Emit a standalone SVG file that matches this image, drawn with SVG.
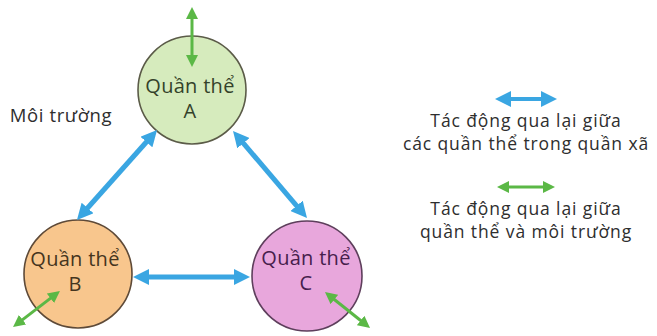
<svg xmlns="http://www.w3.org/2000/svg" width="657" height="336" viewBox="0 0 657 336">
<style>
  .node circle { stroke-width: 1.6; }
  .lbl { font-family: "Open Sans", "Liberation Sans", sans-serif; font-size: 20px; letter-spacing: 0.3px; text-anchor: middle; }
  .txt { font-family: "Open Sans", "Liberation Sans", sans-serif; font-size: 17.5px; letter-spacing: 0.9px; fill: #2e2e2e; text-anchor: middle; }
  .blue { stroke: #3aa6e2; stroke-width: 5; fill: none; marker-start: url(#hb); marker-end: url(#hb); }
  .green { stroke: #5bb846; stroke-width: 3; fill: none; marker-start: url(#hg); marker-end: url(#hg); }
</style>
<defs>
  <marker id="hb" viewBox="0 0 16 16" markerUnits="userSpaceOnUse" markerWidth="16" markerHeight="16" refX="6" refY="8" orient="auto-start-reverse">
    <path d="M0,0 L16,8 L0,16 z" fill="#3aa6e2"/>
  </marker>
  <marker id="hg" viewBox="0 0 12 12" markerUnits="userSpaceOnUse" markerWidth="12" markerHeight="12" refX="4" refY="6" orient="auto-start-reverse">
    <path d="M0,0 L12,6 L0,12 z" fill="#5bb846"/>
  </marker>
</defs>
<rect width="657" height="336" fill="#ffffff"/>

<g id="nodeA" class="node">
  <circle cx="192" cy="90" r="54" fill="#d6ebbd" stroke="#5b5b48"/>
  <text class="lbl" x="190" y="93" fill="#34422a">Quần thể</text>
  <text class="lbl" x="190" y="118" fill="#34422a">A</text>
</g>
<g id="nodeB" class="node">
  <circle cx="78" cy="274" r="54" fill="#f8c68d" stroke="#5e4a38"/>
  <text class="lbl" x="75" y="266" fill="#45351e">Quần thể</text>
  <text class="lbl" x="75" y="291" fill="#45351e">B</text>
</g>
<g id="nodeC" class="node">
  <circle cx="307" cy="276" r="55" fill="#e8a7dc" stroke="#5e3f5c"/>
  <text class="lbl" x="306" y="265" fill="#46204c">Quần thể</text>
  <text class="lbl" x="306" y="290" fill="#46204c">C</text>
</g>

<g id="env">
  <text class="txt" x="61" y="122" style="font-size:18.5px;letter-spacing:0.6px">Môi trường</text>
</g>

<g id="connectors">
  <line class="blue" x1="150.4" y1="137.5" x2="83.6" y2="212.5"/>
  <line class="blue" x1="239.5" y1="138.6" x2="300.5" y2="210.4"/>
  <line class="blue" x1="143" y1="277" x2="240" y2="277"/>
  <line class="green" x1="192" y1="15" x2="192" y2="59"/>
  <line class="green" x1="19.4" y1="322.1" x2="53.6" y2="295.9"/>
  <line class="green" x1="331.2" y1="297" x2="363.8" y2="323"/>
</g>

<g id="legend">
  <line class="blue" x1="505" y1="99" x2="547" y2="99" style="stroke-width:4"/>
  <text class="txt" x="526" y="127">Tác động qua lại giữa</text>
  <text class="txt" x="526" y="150">các quần thể trong quần xã</text>
  <line class="green" x1="505" y1="187" x2="547" y2="187"/>
  <text class="txt" x="526" y="215">Tác động qua lại giữa</text>
  <text class="txt" x="526" y="238">quần thể và môi trường</text>
</g>
</svg>
